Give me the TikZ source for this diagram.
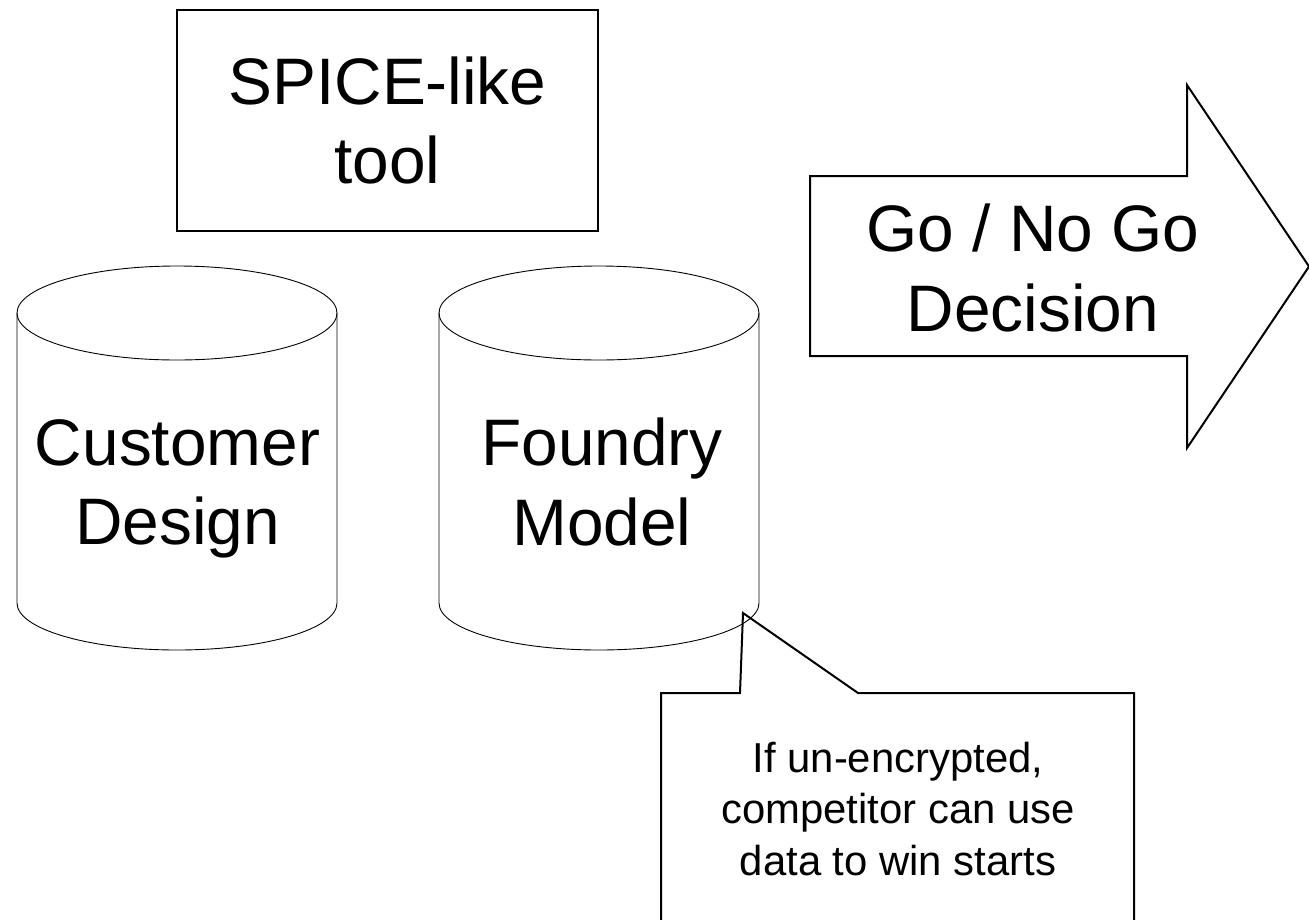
\documentclass[tikz,border=0pt]{standalone}
\usepackage{fontspec}
\setmainfont{Liberation Sans}
\begin{document}
\begin{tikzpicture}[x=1bp,y=-1bp,
  bold/.style={draw=black,line width=2bp,line join=miter},
  thin/.style={draw=black,line width=0.9bp},
  big/.style={font=\fontsize{66}{80}\selectfont,align=center,inner sep=0pt},
  small/.style={font=\fontsize{42}{51.5}\selectfont,align=center,inner sep=0pt},
  store/.pic={
    \draw[thin] (0,-145) ellipse [x radius=160bp, y radius=47bp];
    \draw[thin] (-160,-145) -- (-160,145)
      arc[start angle=180, end angle=360, x radius=160bp, y radius=47bp]
      -- (160,-145);
  }]
\useasboundingbox (0,0) rectangle (1309,919);
\clip (0,0) rectangle (1309,919);

% simulator box
\node[bold, big, minimum width=421bp, minimum height=221bp] (spice)
  at (387.5,120.5) {SPICE-like\\tool};

% data stores
\pic at (177,458) {store};
\node[big] (cust) at (177.5,489) {Customer\\Design};
\pic at (599,458) {store};
\node[big] (found) at (602,482) {Foundry\\Model};

% decision arrow
\draw[bold] (810,176) -- (1187,176) -- (1187,85) -- (1309,266.5)
  -- (1187,448) -- (1187,356) -- (810,356) -- cycle;
\node[big] (decision) at (1033,268) {Go / No Go\\Decision};

% callout pointing at the foundry model
\coordinate (tip) at (743,613);
\draw[bold] (661,693) -- (740,693) -- (tip) -- (858,693) -- (1134,693)
  -- (1134,960) -- (661,960) -- cycle;
\node[small] (note) at (898,809)
  {If un-encrypted,\\competitor can use\\data to win starts};
\end{tikzpicture}
\end{document}
